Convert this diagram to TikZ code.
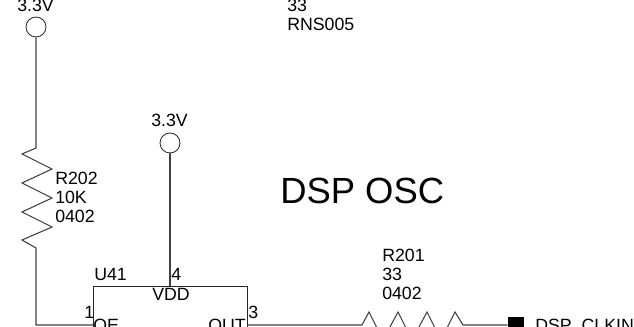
\documentclass[tikz,border=0pt]{standalone}
\usepackage{fontspec}
\setmainfont{Liberation Sans}
\usetikzlibrary{positioning}

\begin{document}
\begin{tikzpicture}[x=0.75pt,y=-0.75pt,
    wire/.style={draw=black!75,line width=0.8pt},
    power/.style={circle,draw=black!85,line width=0.6pt,minimum size=15pt,inner sep=0pt},
    label/.style={inner sep=0pt,anchor=base west,font=\fontsize{13.3}{14.25}\selectfont},
    block/.style={inner sep=0pt,anchor=north west,align=left,font=\fontsize{13.3}{14.25}\selectfont}]

  \useasboundingbox (0,0) rectangle (634,327);

  \node[power] (vcc1) at (36,27) {};
  \node[power] (vcc2) at (170,143) {};
  \node[label] (vcc1t) at (17,12) {3.3V};
  \node[label] (vcc2t) at (151,127) {3.3V};

  \node[block] (rns) at (287,-1) {33\\RNS005};
  \node[block] (r202) at (55,172) {R202\\10K\\0402};
  \node[block] (r201) at (382,249) {R201\\33\\0402};
  \node[inner sep=0pt,anchor=base west,font=\fontsize{27.3}{30}\selectfont] (title) at (280,204) {DSP OSC};

  % the chip runs off the bottom of the page
  \coordinate (tl) at (93,286);
  \coordinate (tr) at (247,286);
  \coordinate (bl) at (93,340);
  \coordinate (br) at (247,340);
  \coordinate (pin4) at (170,286);
  \coordinate (pin1) at (93,325);
  \coordinate (pin3) at (247,325);
  \draw[black!85,line width=0.6pt] (bl) -- (tl) -- (tr) -- (br);

  \node[label] (u41) at (94,281) {U41};
  \node[label] (p4) at (171,281) {4};
  \node[label] (vdd) at (152,300) {VDD};
  \node[label] (p1) at (84,318) {1};
  \node[label] (p3) at (248,318) {3};
  \node[label] (oe) at (93,331) {OE};
  \node[label] (out) at (208,331) {OUT};

  \node[fill=black,minimum size=12pt,inner sep=0pt] (tp) at (516,325) {};
  \node[label] (clk) at (535,331) {DSP\_CLKIN};

  \draw[wire] (vcc2) -- (pin4);
  \draw[wire] (vcc1) -- (36,148) -- (22,154) -- (52,169) -- (22,183) -- (52,198)
    -- (22,212) -- (52,227) -- (22,240) -- (36,248) |- (pin1);
  \draw[wire] (pin3) -- (362,325) -- (369,312) -- (383,340) -- (398,312) -- (412,340)
    -- (427,312) -- (441,340) -- (455,312) -- (463,325) -- (tp);

\end{tikzpicture}
\end{document}
